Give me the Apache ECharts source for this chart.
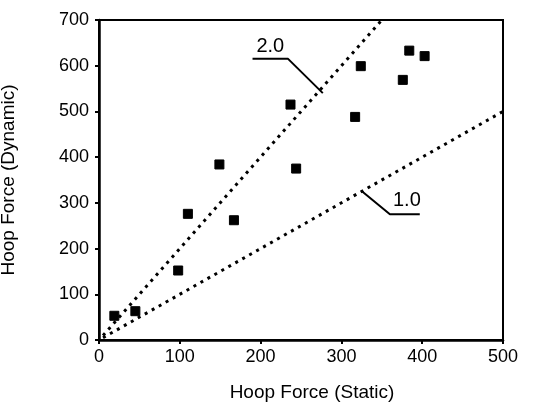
<!DOCTYPE html>
<html>
<head>
<meta charset="utf-8">
<script src="https://cdn.jsdelivr.net/npm/echarts@6/dist/echarts.min.js"></script>
<style>
  html, body { margin: 0; padding: 0; background: #fff; }
  #main { width: 534px; height: 414px; }
</style>
</head>
<body>
<div id="main"></div>
<script>
// measured points (static, dynamic)
var staticForce  = [19, 45, 98, 110, 149, 167, 237, 244, 317, 324, 376, 384, 403];
var dynamicForce = [53, 63, 152, 276, 384, 262, 515, 375, 488, 599, 569, 633, 621];

// reference ratio lines
var ratio2Line = [[5, 10], [350, 700]];
var ratio1Line = [[5, 5], [500, 500]];

// label leaders
var leader2 = [[190, 615], [234, 615], [277, 540]];
var leader1 = [[325, 326], [360, 275], [397, 275]];
var label2Pos = [212, 643];
var label1Pos = [381, 305];

var xTicks = [0, 100, 200, 300, 400, 500];
var yTicks = [0, 100, 200, 300, 400, 500, 600, 700];

var chart = echarts.init(document.getElementById('main'));
var font = 'Liberation Sans, Arial, sans-serif';

var option = {
  animation: false,
  grid: {
    left: 99, right: 31, top: 20, bottom: 74,
    containLabel: false, outerBoundsMode: 'none',
    show: true, borderColor: '#000', borderWidth: 2
  },
  xAxis: {
    type: 'value', min: xTicks[0], max: xTicks[xTicks.length - 1], interval: 100,
    name: 'Hoop Force (Static)', nameLocation: 'middle', nameGap: 43,
    nameTextStyle: { color: '#000', fontSize: 19, fontFamily: font, padding: [0, 0, 0, 22] },
    axisLine: { lineStyle: { color: '#000', width: 2.5 } },
    axisTick: { show: true, length: 4, lineStyle: { color: '#000', width: 2 } },
    axisLabel: { color: '#000', fontSize: 18, fontFamily: font, margin: 8 },
    splitLine: { show: false }
  },
  yAxis: {
    type: 'value', min: yTicks[0], max: yTicks[yTicks.length - 1], interval: 100,
    name: 'Hoop Force (Dynamic)', nameLocation: 'middle', nameGap: 81,
    nameTextStyle: { color: '#000', fontSize: 19, fontFamily: font },
    axisLine: { lineStyle: { color: '#000', width: 2.5 } },
    axisTick: { show: true, length: 4, lineStyle: { color: '#000', width: 2 } },
    axisLabel: { color: '#000', fontSize: 18, fontFamily: font, margin: 10 },
    splitLine: { show: false }
  },
  series: [
    {
      type: 'line', data: ratio2Line, symbol: 'none',
      lineStyle: { color: '#000', width: 3, type: [3, 5] }
    },
    {
      type: 'line', data: ratio1Line, symbol: 'none',
      lineStyle: { color: '#000', width: 3, type: [3, 5] }
    },
    {
      type: 'line', data: leader2, symbol: 'none',
      lineStyle: { color: '#000', width: 2 }
    },
    {
      type: 'line', data: leader1, symbol: 'none',
      lineStyle: { color: '#000', width: 2 }
    },
    {
      type: 'scatter', symbol: 'circle', symbolSize: 0,
      itemStyle: { color: '#fff', opacity: 1 },
      data: [
        { value: label2Pos, label: { formatter: '2.0' } },
        { value: label1Pos, label: { formatter: '1.0' } }
      ],
      label: { show: true, position: 'inside', color: '#000', fontSize: 20, fontFamily: font }
    },
    {
      type: 'scatter', symbol: 'rect', symbolSize: 9,
      data: staticForce.map(function (x, i) { return [x, dynamicForce[i]]; }),
      itemStyle: { color: '#000', borderColor: '#000', borderWidth: 1, opacity: 1 }
    }
  ]
};
chart.setOption(option);
</script>
</body>
</html>
